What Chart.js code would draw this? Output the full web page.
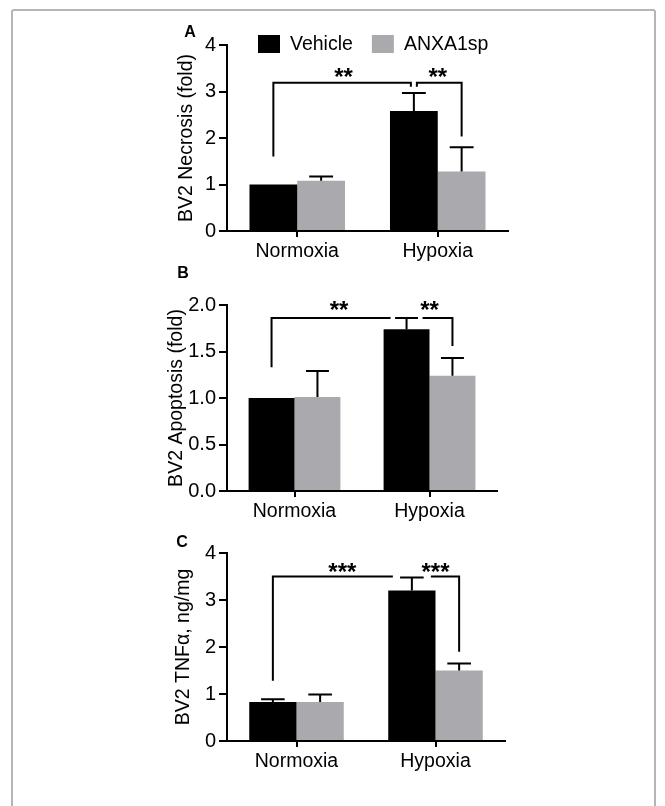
<!DOCTYPE html>
<html>
<head>
<meta charset="utf-8">
<script src="https://cdn.jsdelivr.net/npm/chart.js@4.4.0/dist/chart.umd.min.js"></script>
<style>
  html, body { margin: 0; padding: 0; background: #fff; }
  #page { position: relative; width: 665px; height: 806px; overflow: hidden; }
  #frame { position: absolute; left: 11px; top: 9px; width: 641px; height: 840px;
           border: 2px solid #b5b5b5; border-radius: 3px; }
  canvas { position: absolute; left: 0; }
</style>
</head>
<body>
<div id="page">
  <div id="frame"></div>
  <canvas id="necrosisChart" width="665" height="255" style="top:10px"></canvas>
  <canvas id="apoptosisChart" width="665" height="260" style="top:262px"></canvas>
  <canvas id="tnfChart" width="665" height="260" style="top:522px"></canvas>
</div>
<script>
// ===== data =====
const categories = ['Normoxia', 'Hypoxia'];
const seriesNames = ['Vehicle', 'ANXA1sp'];
const seriesColors = ['#000000', '#aaa9ad'];

// A: necrosis (fold)
const necrosisVehicle = [1.0, 2.58];
const necrosisVehicleErr = [0, 0.39];
const necrosisAnxa = [1.08, 1.28];
const necrosisAnxaErr = [0.09, 0.52];
const necrosisTicks = [0, 1, 2, 3, 4];

// B: apoptosis (fold)
const apoptosisVehicle = [1.0, 1.74];
const apoptosisVehicleErr = [0, 0.12];
const apoptosisAnxa = [1.01, 1.24];
const apoptosisAnxaErr = [0.28, 0.19];
const apoptosisTicks = [0, 0.5, 1.0, 1.5, 2.0];

// C: TNFa, ng/mg
const tnfVehicle = [0.83, 3.2];
const tnfVehicleErr = [0.06, 0.28];
const tnfAnxa = [0.83, 1.5];
const tnfAnxaErr = [0.16, 0.15];
const tnfTicks = [0, 1, 2, 3, 4];

// significance brackets: [dataset, category] ends, bar level, leg bottoms
const necrosisBrackets = [
  { from: [0, 0], to: [0, 1], level: 3.19, legs: [1.6, 3.1], label: '**' },
  { from: [0, 1], to: [1, 1], level: 3.19, legs: [3.1, 2.03], label: '**' },
];
const apoptosisBrackets = [
  { from: [0, 0], to: [0, 1], level: 1.86, legs: [1.33, 1.86], label: '**' },
  { from: [0, 1], to: [1, 1], level: 1.86, legs: [1.86, 1.56], label: '**' },
];
const tnfBrackets = [
  { from: [0, 0], to: [0, 1], level: 3.5, legs: [1.28, 3.5], label: '***' },
  { from: [0, 1], to: [1, 1], level: 3.5, legs: [3.5, 1.9], label: '***' },
];

// ===== layout =====
const FONT = "'Liberation Sans', Arial, Helvetica, sans-serif";
const Y_AXIS_W = 77;
const X_AXIS_H = 30;
Chart.defaults.font.family = FONT;
Chart.defaults.color = '#000';

function makeExtras(panel) {
  return {
    id: 'extras',
    afterDatasetsDraw(chart) {
      const ctx = chart.ctx;
      const y = chart.scales.y;
      ctx.save();
      ctx.strokeStyle = '#000';
      ctx.fillStyle = '#000';
      ctx.lineWidth = 2;
      ctx.lineCap = 'butt';
      ctx.lineJoin = 'miter';

      // error bars (mean + SD, upper whisker only)
      panel.errors.forEach((errs, ds) => {
        const meta = chart.getDatasetMeta(ds);
        meta.data.forEach((bar, i) => {
          if (!errs[i]) return;
          const v = chart.data.datasets[ds].data[i];
          const yTop = y.getPixelForValue(v + errs[i]);
          const half = bar.width / 4;
          ctx.beginPath();
          ctx.moveTo(bar.x, bar.y);
          ctx.lineTo(bar.x, yTop);
          ctx.moveTo(bar.x - half, yTop);
          ctx.lineTo(bar.x + half, yTop);
          ctx.stroke();
        });
      });

      // brackets + stars
      panel.brackets.forEach(b => {
        const p1 = chart.getDatasetMeta(b.from[0]).data[b.from[1]];
        const p2 = chart.getDatasetMeta(b.to[0]).data[b.to[1]];
        let x1 = p1.x, x2 = p2.x;
        if (b.from[0] === 0 && b.from[1] === 1) x1 += panel.gap;
        if (b.to[0] === 0 && b.to[1] === 1) x2 -= panel.gap;
        const yl = y.getPixelForValue(b.level);
        ctx.beginPath();
        ctx.moveTo(x1, y.getPixelForValue(b.legs[0]));
        ctx.lineTo(x1, yl);
        ctx.lineTo(x2, yl);
        ctx.lineTo(x2, y.getPixelForValue(b.legs[1]));
        ctx.stroke();
        ctx.font = 'bold 24px ' + FONT;
        ctx.textAlign = 'center';
        ctx.textBaseline = 'alphabetic';
        ctx.fillText(b.label, (p1.x + p2.x) / 2, yl - panel.starLift + 0.573 * 24);
      });

      // panel letter
      ctx.font = 'bold 16px ' + FONT;
      ctx.textAlign = 'center';
      ctx.textBaseline = 'middle';
      ctx.fillText(panel.letter, panel.letterPos[0], panel.letterPos[1] - panel.canvasTop);

      // legend (panel A only)
      if (panel.legend) {
        const ly = 44 - panel.canvasTop;
        let lx = 258;
        ctx.font = '19.5px ' + FONT;
        ctx.textAlign = 'left';
        chart.data.datasets.forEach(ds => {
          ctx.fillStyle = ds.backgroundColor;
          ctx.fillRect(lx, ly - 9, 22, 18);
          ctx.fillStyle = '#000';
          ctx.fillText(ds.label, lx + 32, ly + 1);
          lx += 32 + ctx.measureText(ds.label).width + 19;
        });
      }
      ctx.restore();
    },
  };
}

function renderPanel(panel) {
  const canvas = document.getElementById(panel.id);
  const h = canvas.height;
  const a = panel.area;
  new Chart(canvas, {
    type: 'bar',
    data: {
      labels: categories,
      datasets: panel.values.map((vals, i) => ({
        label: seriesNames[i],
        data: vals,
        backgroundColor: seriesColors[i],
        borderWidth: 0,
        categoryPercentage: 0.68,
        barPercentage: 1.0,
      })),
    },
    options: {
      responsive: false,
      devicePixelRatio: 1,
      animation: false,
      events: [],
      layout: {
        padding: {
          left: a.left - Y_AXIS_W,
          right: canvas.width - a.right,
          top: a.top - panel.canvasTop,
          bottom: panel.canvasTop + h - a.bottom - X_AXIS_H,
        },
      },
      plugins: { legend: { display: false }, tooltip: { enabled: false } },
      scales: {
        x: {
          afterFit: s => { s.height = X_AXIS_H; },
          grid: { offset: false, drawOnChartArea: false, color: '#000', lineWidth: 2, tickLength: 6 },
          border: { color: '#000', width: 2 },
          ticks: { font: { size: 19.5 }, color: '#000', padding: 3, maxRotation: 0 },
        },
        y: {
          min: panel.ticks[0],
          max: panel.ticks[panel.ticks.length - 1],
          afterFit: s => { s.width = Y_AXIS_W; },
          afterBuildTicks: s => { s.ticks = panel.ticks.map(v => ({ value: v })); },
          grid: { drawOnChartArea: false, color: '#000', lineWidth: 2, tickLength: 8 },
          border: { color: '#000', width: 2 },
          ticks: {
            font: { size: 20 }, color: '#000', padding: 3,
            callback: v => panel.tickFmt(v),
          },
          title: {
            display: true,
            text: panel.title,
            font: { size: 19.5 },
            color: '#000',
            padding: { top: panel.titlePad, bottom: 0 },
          },
        },
      },
    },
    plugins: [makeExtras(panel)],
  });
}

renderPanel({
  id: 'necrosisChart', canvasTop: 10,
  area: { left: 227, right: 508, top: 45, bottom: 231 },
  values: [necrosisVehicle, necrosisAnxa],
  errors: [necrosisVehicleErr, necrosisAnxaErr],
  ticks: necrosisTicks, tickFmt: v => String(v),
  title: 'BV2 Necrosis (fold)', titlePad: 25,
  brackets: necrosisBrackets, gap: 3, starLift: 11,
  letter: 'A', letterPos: [190, 33], legend: true,
});

renderPanel({
  id: 'apoptosisChart', canvasTop: 262,
  area: { left: 227, right: 497, top: 305, bottom: 491 },
  values: [apoptosisVehicle, apoptosisAnxa],
  errors: [apoptosisVehicleErr, apoptosisAnxaErr],
  ticks: apoptosisTicks, tickFmt: v => v.toFixed(1),
  title: 'BV2 Apoptosis (fold)', titlePad: 15,
  brackets: apoptosisBrackets, gap: 16, starLift: 14,
  letter: 'B', letterPos: [183, 274], legend: false,
});

renderPanel({
  id: 'tnfChart', canvasTop: 522,
  area: { left: 227, right: 505, top: 553, bottom: 741 },
  values: [tnfVehicle, tnfAnxa],
  errors: [tnfVehicleErr, tnfAnxaErr],
  ticks: tnfTicks, tickFmt: v => String(v),
  title: 'BV2 TNFα, ng/mg', titlePad: 22,
  brackets: tnfBrackets, gap: 19, starLift: 10,
  letter: 'C', letterPos: [182, 543], legend: false,
});
</script>
</body>
</html>
